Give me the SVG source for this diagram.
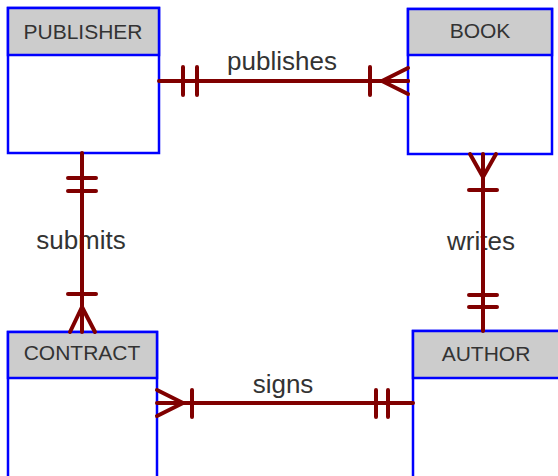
<svg xmlns="http://www.w3.org/2000/svg" width="558" height="476" viewBox="0 0 558 476">
<defs>
<style>
.box{fill:#ffffff;stroke:#0000ff;stroke-width:2.5}
.hdr{fill:#cccccc;stroke:#0000ff;stroke-width:2.5}
.ttl{font-family:"Liberation Sans",Arial,sans-serif;font-size:21px;fill:#333333;text-anchor:middle}
.lbl{font-family:"Liberation Sans",Arial,sans-serif;font-size:26px;fill:#333333;text-anchor:middle}
.cn{fill:none;stroke:#800000;stroke-width:4;stroke-linecap:round;stroke-linejoin:round}
</style>
</defs>
<rect width="558" height="476" fill="#ffffff"/>
<g id="publisher">
<rect class="box" x="8" y="8" width="151" height="145"/>
<rect class="hdr" x="8" y="8" width="151" height="47"/>
<text class="ttl" x="83" y="38.5">PUBLISHER</text>
</g>
<g id="book">
<rect class="box" x="408" y="9" width="144" height="145"/>
<rect class="hdr" x="408" y="9" width="144" height="46"/>
<text class="ttl" x="480" y="37.5">BOOK</text>
</g>
<g id="contract">
<rect class="box" x="8" y="332" width="149" height="160"/>
<rect class="hdr" x="8" y="332" width="149" height="46"/>
<text class="ttl" x="82" y="360">CONTRACT</text>
</g>
<g id="author">
<rect class="box" x="413" y="331" width="150" height="160"/>
<rect class="hdr" x="413" y="331" width="150" height="47"/>
<text class="ttl" x="486" y="361">AUTHOR</text>
</g>
<g id="labels">
<text class="lbl" x="282" y="69.5">publishes</text>
<text class="lbl" x="81" y="249">submits</text>
<text class="lbl" x="481" y="250">writes</text>
<text class="lbl" x="283" y="393">signs</text>
</g>
<g id="connectors" class="cn">
<g id="publishes">
<path d="M159 81H408"/>
<path d="M183 67V95M197 67V95"/>
<path d="M370 67V95"/>
<path d="M408 68L382 81L408 94M382 81H408"/>
</g>
<g id="submits">
<path d="M82 153V332"/>
<path d="M68 178H96M68 191H96"/>
<path d="M68 294H96"/>
<path d="M70 332L82 307L95 332"/>
</g>
<g id="writes">
<path d="M483 154V331"/>
<path d="M469 190H497"/>
<path d="M470 154L483 177L496 154"/>
<path d="M469 295H497M469 307H497"/>
</g>
<g id="signs">
<path d="M157 403H413"/>
<path d="M157 390L183 403L157 416"/>
<path d="M192 390V417"/>
<path d="M376 390V417M388 390V417"/>
</g>
</g>
</svg>
